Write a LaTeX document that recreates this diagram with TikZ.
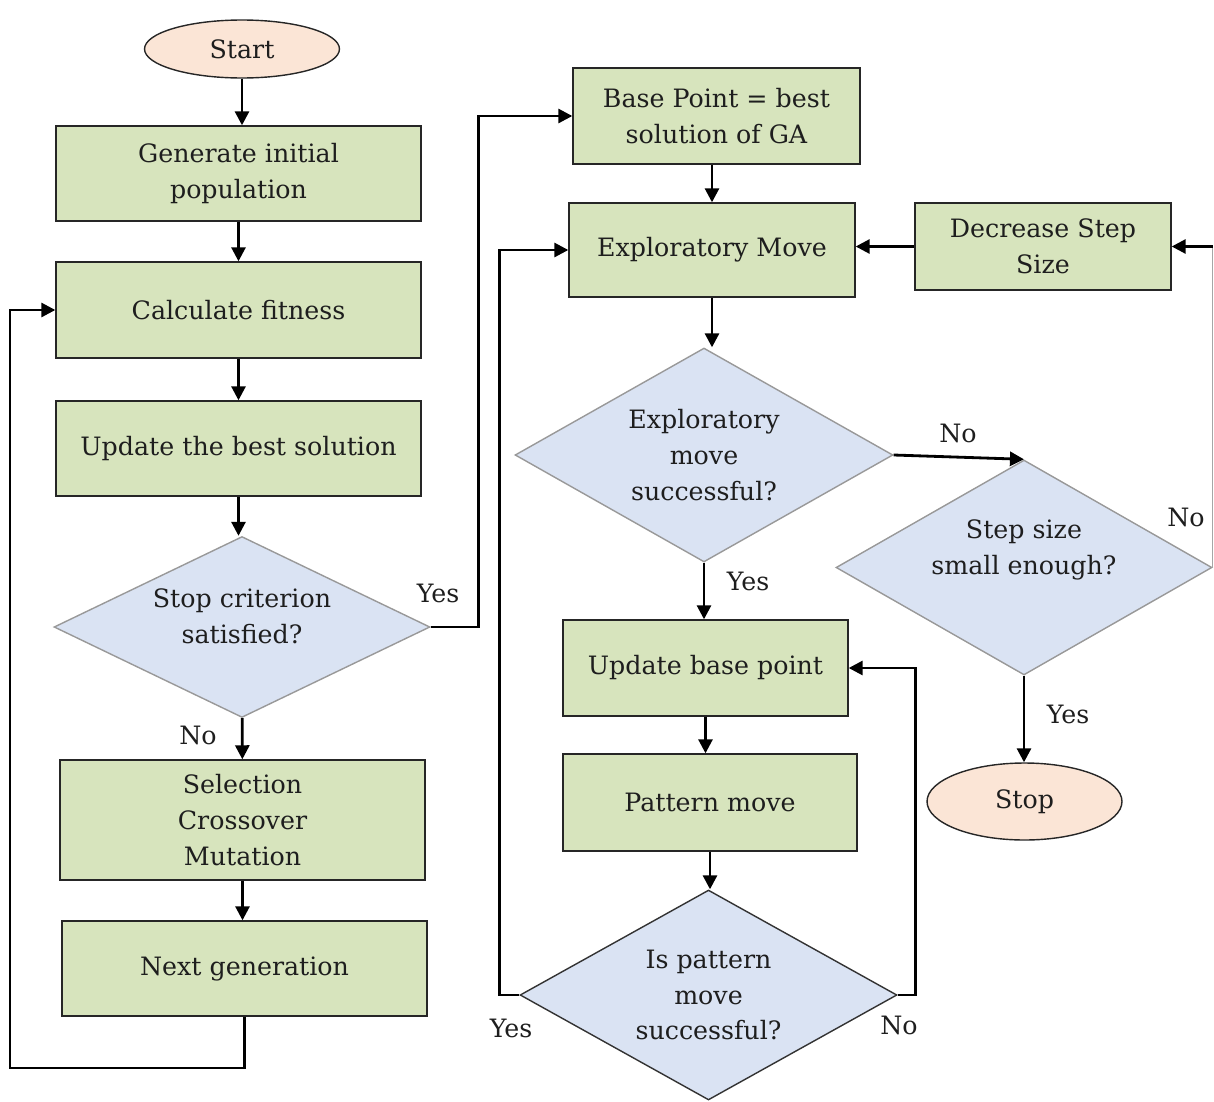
\documentclass[tikz,border=0pt]{standalone}
\usepackage{fontspec}
\setmainfont{DejaVu Serif}
\usetikzlibrary{shapes.geometric,arrows.meta}
\definecolor{boxgreen}{HTML}{D7E4BD}
\definecolor{diablue}{HTML}{DAE3F3}
\definecolor{peach}{HTML}{FBE5D6}
\definecolor{txt}{HTML}{1E1E1E}
\begin{document}
\begin{tikzpicture}[x=0.02cm,y=-0.02cm,
  every node/.style={font=\fontsize{14.4}{20.4}\selectfont, text=txt},
  proc/.style={rectangle, draw=black!85, line width=0.8pt, fill=boxgreen, align=center, inner sep=0pt},
  term/.style={ellipse, draw=black!85, line width=0.8pt, fill=peach, inner sep=0pt, minimum width=3.9cm},
  decis/.style={diamond, draw=black!40, line width=0.8pt, fill=diablue, align=center, inner sep=0pt},
  dtext/.style={align=center, inner sep=0pt},
  arr/.style={line width=1.6pt, -{Triangle[length=8pt,width=8pt]}},
  lbl/.style={inner sep=0pt}]
\useasboundingbox (0,0) rectangle (1214,1102);
% left column
\node[term, minimum height=1.16cm] (start) at (242,49) {Start};
\node[proc, minimum width=7.3cm, minimum height=1.9cm] (gen) at (238.5,173.5) {Generate initial\\population};
\node[proc, minimum width=7.3cm, minimum height=1.92cm] (fit) at (238.5,310) {Calculate fitness};
\node[proc, minimum width=7.3cm, minimum height=1.9cm] (upd) at (238.5,448.5) {Update the best solution};
\node[decis, aspect=2.077, minimum width=7.52cm, minimum height=3.62cm] (stopc) at (242,627) {};
\node[dtext] (stopct) at (242,616) {Stop criterion\\satisfied?};
\node[proc, minimum width=7.3cm, minimum height=2.4cm] (sel) at (242.5,820) {Selection\\Crossover\\Mutation};
\node[proc, minimum width=7.3cm, minimum height=1.9cm] (nxt) at (244.5,968.5) {Next generation};
% right part
\node[proc, minimum width=5.74cm, minimum height=1.92cm] (bp) at (716.5,116) {Base Point = best\\solution of GA};
\node[proc, minimum width=5.72cm, minimum height=1.88cm] (exm) at (712,250) {Exploratory Move};
\node[proc, minimum width=5.12cm, minimum height=1.74cm] (dss) at (1043,246.5) {Decrease Step\\Size};
\node[decis, aspect=1.766, minimum width=7.56cm, minimum height=4.28cm] (exd) at (704,455) {Exploratory\\move\\successful?};
\node[decis, aspect=1.749, minimum width=7.52cm, minimum height=4.3cm] (ssd) at (1024,567.5) {};
\node[dtext] (ssdt) at (1024,550) {Step size\\small enough?};
\node[proc, minimum width=5.7cm, minimum height=1.92cm] (ubp) at (705.5,668) {Update base point};
\node[proc, minimum width=5.88cm, minimum height=1.94cm] (pm) at (710,802.5) {Pattern move};
\node[decis, draw=black!80, aspect=1.795, minimum width=7.54cm, minimum height=4.2cm] (pd) at (708.5,995) {Is pattern\\move\\successful?};
\node[term, minimum height=1.54cm] (stop) at (1024.5,801.5) {Stop};
% coordinates
\coordinate (c1) at (10,1068);
\coordinate (c3) at (ssd.east |- dss.east);
% connectors left
\draw[arr] (start.south) -- (start.south |- gen.north);
\draw[arr] (gen) -- (fit);
\draw[arr] (fit) -- (upd);
\draw[arr] (upd.south) -- (upd.south |- stopc.north);
\draw[arr] (stopc) -- (sel);
\draw[arr] (sel.south) -- (sel.south |- nxt.north);
\draw[arr] (nxt.south) |- (c1) |- (fit.west);
\draw[arr] (stopc.east) -- ++(48,0) |- (bp.west);
% connectors right
\draw[arr] (bp.south -| exm.north) -- (exm.north);
\draw[arr] (exm.south) -- (exm.south |- exd.north);
\draw[arr] (exd.east) -- (ssd.north);
\draw[line width=0.8pt, black!35] (ssd.east) -- (c3);
\draw[arr] (c3) -- (dss.east);
\draw[arr] (dss.west) -- (dss.west -| exm.east);
\draw[arr] (exd.south) -- (exd.south |- ubp.north);
\draw[arr] (ssd.south) -- (ssd.south |- stop.north);
\draw[arr] (ubp.south) -- (ubp.south |- pm.north);
\draw[arr] (pm.south) -- (pm.south |- pd.north);
\draw[arr] (pd.west) -- ++(-20,0) |- (exm.west);
\draw[arr] (pd.east) -- ++(18,0) |- (ubp.east);
% labels
\node[lbl] (l1) at (438,593) {Yes};
\node[lbl] (l2) at (198,735) {No};
\node[lbl] (l3) at (958,433) {No};
\node[lbl] (l4) at (1186,517) {No};
\node[lbl] (l5) at (748,581) {Yes};
\node[lbl] (l6) at (1068,714) {Yes};
\node[lbl] (l7) at (511,1028) {Yes};
\node[lbl] (l8) at (899,1025) {No};
\end{tikzpicture}
\end{document}
